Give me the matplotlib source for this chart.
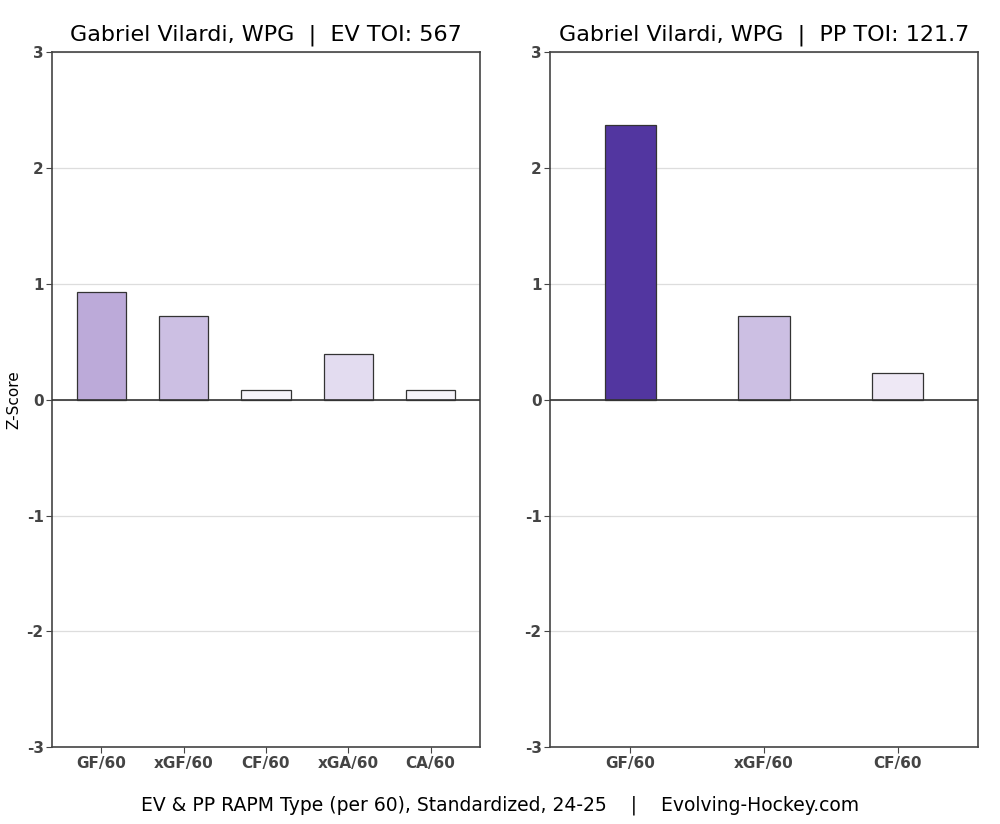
import numpy as np
import matplotlib
matplotlib.use('Agg')
from matplotlib import pyplot as plt

ev_labels = ['GF/60', 'xGF/60', 'CF/60', 'xGA/60', 'CA/60']
ev_values = [0.93, 0.72, 0.08, 0.39, 0.08]
ev_colors = ['#bcaad9', '#ccbfe3', '#f6f4fa', '#e3dcf0', '#f6f4fa']

pp_labels = ['GF/60', 'xGF/60', 'CF/60']
pp_values = [2.37, 0.72, 0.23]
pp_colors = ['#5236a0', '#ccbfe3', '#eee8f5']

yticks = [-3, -2, -1, 0, 1, 2, 3]

fig = plt.figure(figsize=(10, 8.24), dpi=100)
ax1 = fig.add_axes([0.052, 0.093, 0.428, 0.844])
ax2 = fig.add_axes([0.550, 0.093, 0.428, 0.844])

def draw(ax, labels, values, colors, width, title):
    x = np.arange(len(labels))
    ax.bar(x, values, width=width, color=colors, edgecolor='#333333', linewidth=0.9, zorder=3)
    ax.axhline(0, color='#333333', linewidth=1.2, zorder=4)
    ax.set_ylim(-3, 3)
    ax.set_xlim(-0.6, len(labels) - 0.4)
    ax.set_yticks(yticks)
    ax.set_yticklabels([str(t) for t in yticks])
    ax.set_xticks(x)
    ax.set_xticklabels(labels)
    for lab in ax.get_xticklabels() + ax.get_yticklabels():
        lab.set_fontweight('bold')
        lab.set_color('#444444')
        lab.set_fontsize(11)
    ax.grid(axis='y', color='#dddddd', linewidth=0.9, zorder=0)
    for s in ax.spines.values():
        s.set_color('#444444')
        s.set_linewidth(1.2)
    ax.tick_params(axis='both', color='#444444', length=4, pad=2)
    ax.set_title(title, fontsize=16, pad=8)

draw(ax1, ev_labels, ev_values, ev_colors, 0.6, 'Gabriel Vilardi, WPG  |  EV TOI: 567')
draw(ax2, pp_labels, pp_values, pp_colors, 0.385, 'Gabriel Vilardi, WPG  |  PP TOI: 121.7')
ax1.set_ylabel('Z-Score', fontsize=11, labelpad=4)

fig.text(0.5, 0.016, 'EV & PP RAPM Type (per 60), Standardized, 24-25    |    Evolving-Hockey.com',
         ha='center', fontsize=13.5)

fig.savefig('out.png', dpi=100)
